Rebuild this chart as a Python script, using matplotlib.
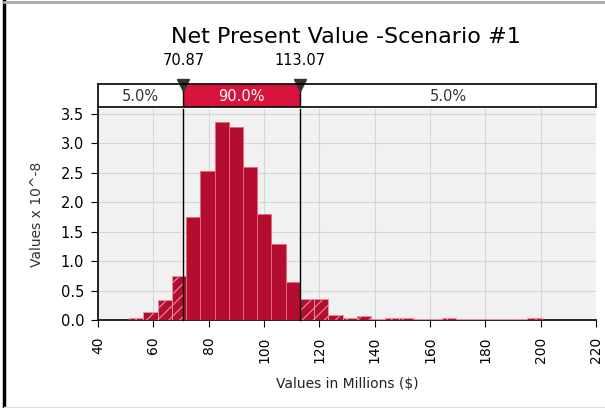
import matplotlib
matplotlib.use("Agg")
import matplotlib.pyplot as plt
from matplotlib.lines import Line2D
import numpy as np

# histogram data (values x 10^-8), bin width ~5.14 starting at 51.3
bin_start = 51.3
bin_width = 5.14
heights = [0.03, 0.14, 0.34, 0.75, 1.74, 2.53, 3.36, 3.27, 2.59, 1.80,
           1.29, 0.65, 0.35, 0.35, 0.08, 0.03, 0.06, 0.01, 0.03, 0.03,
           0.01, 0.01, 0.03, 0.01, 0.01, 0.01, 0.01, 0.01, 0.04]

lower_cut = 70.87
upper_cut = 113.07
pct_labels = ["5.0%", "90.0%", "5.0%"]

title = "Net Present Value -Scenario #1"
xlabel = "Values in Millions ($)"
ylabel = "Values x 10^-8"

RED = "#B30D2F"
RED_BAR = "#D7143C"
HATCH = "#E8909F"

plt.rcParams["hatch.linewidth"] = 0.8
plt.rcParams["font.family"] = "DejaVu Sans"

W, H = 605, 408
fig = plt.figure(figsize=(W / 100, H / 100), dpi=100)

ax = fig.add_axes([98 / W, (H - 320) / H, (596 - 98) / W, (320 - 109) / H])
ax.set_facecolor("#F1F1F1")
ax.set_xlim(40, 220)
ax.set_ylim(0, 3.58)

edges = bin_start + bin_width * np.arange(len(heights) + 1)
for i, h in enumerate(heights):
    lo, hi = edges[i], edges[i + 1]
    # split bins at the cut lines: inside solid, outside hatched
    pieces = []
    for a, b in [(lo, min(hi, lower_cut)), (max(lo, lower_cut), min(hi, upper_cut)),
                 (max(lo, upper_cut), hi)]:
        if b > a:
            pieces.append((a, b))
    for a, b in pieces:
        inside = a >= lower_cut and b <= upper_cut
        ax.bar(a, h, width=b - a, align="edge", color=RED,
               edgecolor="#E46A80" if inside else HATCH, linewidth=0.7,
               hatch=None if inside else "///", zorder=3)

for v in (lower_cut, upper_cut):
    ax.plot([v, v], [0, 3.58], color="black", lw=1, zorder=4, clip_on=False)

ax.set_xticks(np.arange(40, 221, 20))
ax.set_yticks(np.arange(0, 3.51, 0.5))
ax.set_yticklabels([f"{t:.1f}" for t in np.arange(0, 3.51, 0.5)])
ax.tick_params(axis="x", labelrotation=90, labelsize=10, length=5, pad=7, colors="black")
ax.tick_params(axis="y", labelsize=10.5, length=5, pad=5)
ax.grid(True, color="#D5D5D5", lw=0.8, zorder=0)
ax.set_axisbelow(True)
for s in ("top", "right"):
    ax.spines[s].set_visible(False)
ax.spines["left"].set_linewidth(1.2)
ax.spines["bottom"].set_linewidth(1.2)
ax.set_xlabel(xlabel, fontsize=10, labelpad=10, color="#222222")
ax.set_ylabel(ylabel, fontsize=10, color="#333333", labelpad=12)

# percentile bar
pb = fig.add_axes([98 / W, (H - 107) / H, (596 - 98) / W, (107 - 84) / H])
pb.set_xlim(40, 220)
pb.set_ylim(0, 1)
segs = [(40, lower_cut, "white", "#333333"), (lower_cut, upper_cut, RED_BAR, "white"),
        (upper_cut, 220, "white", "#333333")]
for (a, b, fc, tc), lab in zip(segs, pct_labels):
    pb.barh(0.5, b - a, left=a, height=1, color=fc, edgecolor="none")
    pb.text((a + b) / 2, 0.45, lab, ha="center", va="center", color=tc, fontsize=10.5)
for v in (lower_cut, upper_cut):
    pb.plot([v, v], [0, 1], color="black", lw=1)
    pb.plot(v, 0.95, marker="v", color="#333333", markersize=9, clip_on=False)
    pb.text(v, 1.7, f"{v:.2f}", ha="center", va="bottom", fontsize=10.5)
pb.set_xticks([])
pb.set_yticks([])
for s in pb.spines.values():
    s.set_linewidth(1.2)

fig.text(346 / W, (H - 37) / H, title, ha="center", va="center", fontsize=16)

# outer frame
fig.add_artist(Line2D([4 / W, 4 / W], [0, 1], color="black", lw=2.5))
fig.add_artist(Line2D([4 / W, 1], [1 - 1.5 / H, 1 - 1.5 / H], color="#A8A8A8", lw=2))
fig.add_artist(Line2D([4 / W, 1], [1 / H, 1 / H], color="#E0E0E0", lw=1))

fig.savefig("out.png", dpi=100)
